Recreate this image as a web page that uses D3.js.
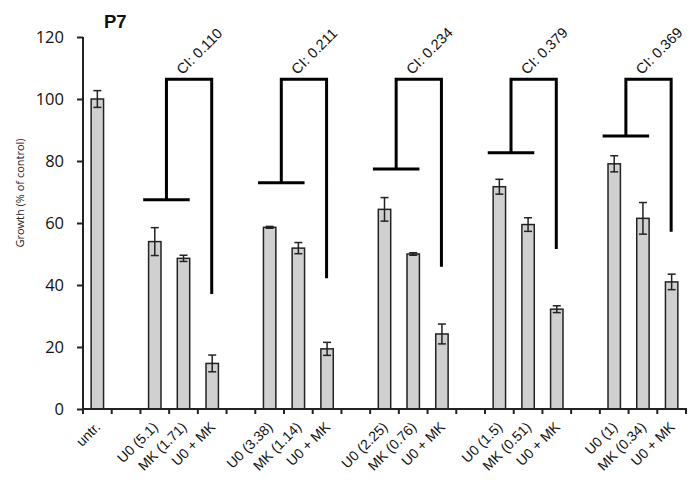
<!DOCTYPE html>
<html>
<head>
<meta charset="utf-8">
<script src="https://cdn.jsdelivr.net/npm/d3@7"></script>
<style>
  html, body { margin: 0; padding: 0; background: #fff; }
  svg { display: block; }
</style>
</head>
<body>
<svg id="chart" width="700" height="486"></svg>
<script>
// ---- data ----
const labels = ["untr.", "", "U0 (5.1)", "MK (1.71)", "U0 + MK", "", "U0 (3.38)", "MK (1.14)", "U0 + MK", "",
  "U0 (2.25)", "MK (0.76)", "U0 + MK", "", "U0 (1.5)", "MK (0.51)", "U0 + MK", "", "U0 (1)", "MK (0.34)", "U0 + MK"];
const values = [100, null, 54, 48.6, 14.7, null, 58.6, 51.9, 19.4, null, 64.4, 50, 24.2, null, 71.7, 59.5, 32.2, null, 79.1, 61.5, 41];
const errors = [2.7, null, 4.5, 1.0, 2.7, null, 0.3, 1.8, 2.1, null, 3.8, 0.4, 3.2, null, 2.4, 2.2, 1.1, null, 2.6, 5.1, 2.5];
const groupStart = [2, 6, 10, 14, 18];
const ciLabels = ["CI: 0.110", "CI: 0.211", "CI: 0.234", "CI: 0.379", "CI: 0.369"];
const expectedLevel = [67.5, 73.0, 77.4, 82.7, 88.1];
const comboLevel = [37.1, 42.2, 45.9, 51.6, 57.2];
const bracketTop = 106.4;
const yTicks = [0, 20, 40, 60, 80, 100, 120];

// ---- layout ----
const svg = d3.select("#chart");
const x = d3.scaleBand().domain(d3.range(labels.length)).range([83, 686]).padding(0);
const y = d3.scaleLinear().domain([0, 120]).range([409, 37]);
const bw = x.bandwidth();
const barW = 12.4;
const dark = "#222";

// bars
const idx = d3.range(labels.length).filter(i => values[i] != null);
svg.append("g").selectAll("rect").data(idx).join("rect")
  .attr("x", i => x(i) + (bw - barW) / 2)
  .attr("y", i => y(values[i]))
  .attr("width", barW)
  .attr("height", i => y(0) - y(values[i]))
  .attr("fill", "#d0d0d0")
  .attr("stroke", dark)
  .attr("stroke-width", 1.5);

// error bars
const eg = svg.append("g").attr("stroke", dark).attr("stroke-width", 1.5);
idx.forEach(i => {
  const cx = x(i) + bw / 2;
  const hi = y(values[i] + errors[i]), lo = y(values[i] - errors[i]);
  eg.append("line").attr("x1", cx).attr("x2", cx).attr("y1", hi).attr("y2", lo);
  eg.append("line").attr("x1", cx - 4).attr("x2", cx + 4).attr("y1", hi).attr("y2", hi);
  eg.append("line").attr("x1", cx - 4).attr("x2", cx + 4).attr("y1", lo).attr("y2", lo);
});

// axes
const yAxis = svg.append("g").attr("transform", "translate(83,0)")
  .call(d3.axisLeft(y).tickValues(yTicks).tickSize(6).tickPadding(13));
yAxis.select(".domain").attr("stroke", dark).attr("stroke-width", 2).attr("d", `M0,${y(120)}V${y(0)}`);
yAxis.selectAll(".tick line").attr("stroke", dark).attr("stroke-width", 2);
yAxis.selectAll(".tick text").attr("font-family", "'Open Sans', sans-serif").attr("font-size", 16.5).attr("fill", "#111");

const xg = svg.append("g");
xg.append("line").attr("x1", 82).attr("x2", x.range()[1] + 1).attr("y1", y(0)).attr("y2", y(0))
  .attr("stroke", dark).attr("stroke-width", 2);
d3.range(labels.length + 1).forEach(k => {
  const tx = k < labels.length ? x(k) : x.range()[1];
  xg.append("line").attr("x1", tx).attr("x2", tx).attr("y1", y(0)).attr("y2", y(0) + 5)
    .attr("stroke", dark).attr("stroke-width", 2);
});
xg.selectAll("text").data(d3.range(labels.length).filter(i => labels[i] !== "")).join("text")
  .attr("transform", i => `translate(${x(i) + bw / 2 + 4},${y(0) + 19}) rotate(-45)`)
  .attr("text-anchor", "end")
  .attr("font-family", "'Liberation Sans', Arial, sans-serif")
  .attr("font-size", 14)
  .attr("fill", "#111")
  .text(i => labels[i]);

// brackets
const bg = svg.append("g").attr("stroke", "#000").attr("stroke-width", 3).attr("fill", "none");
groupStart.forEach((s, g) => {
  const lx = x(s + 1) - 2.7;
  const rx = x(s + 2) + bw / 2 - 0.5;
  const half = 0.81 * bw;
  bg.append("line").attr("x1", lx - half).attr("x2", lx + half)
    .attr("y1", y(expectedLevel[g])).attr("y2", y(expectedLevel[g]));
  bg.append("path")
    .attr("d", `M${lx},${y(expectedLevel[g])}V${y(bracketTop)}H${rx}V${y(comboLevel[g])}`)
    .attr("stroke-linejoin", "miter");
  svg.append("text")
    .attr("transform", `translate(${lx + 16},${y(bracketTop) - 4}) rotate(-45)`)
    .attr("font-family", "'Liberation Sans', Arial, sans-serif")
    .attr("font-size", 14.5)
    .attr("fill", "#111")
    .text(ciLabels[g]);
});

// title & y label
svg.append("text").attr("x", 104).attr("y", 28)
  .attr("font-family", "'Liberation Sans', Arial, sans-serif")
  .attr("font-weight", "bold").attr("font-size", 18.5).attr("fill", "#111").text("P7");
svg.append("text")
  .attr("transform", "translate(24,193) rotate(-90)")
  .attr("text-anchor", "middle")
  .attr("font-family", "'Open Sans', sans-serif")
  .attr("font-size", 11).attr("fill", "#222")
  .text("Growth (% of control)");
</script>
</body>
</html>
